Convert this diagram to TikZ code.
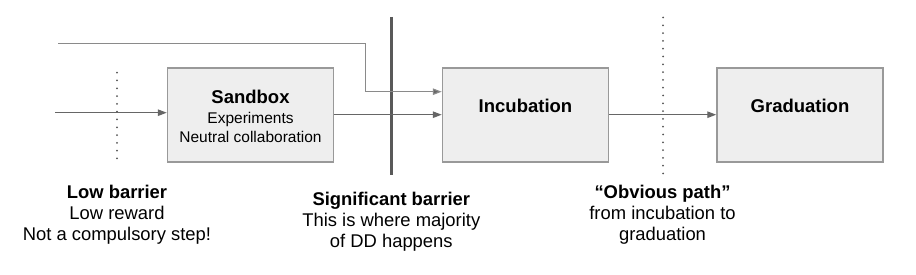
\documentclass[tikz,border=0pt]{standalone}
\usepackage{fontspec}
\setmainfont{Liberation Sans}
\usetikzlibrary{arrows.meta}
\definecolor{boxfill}{HTML}{EEEEEE}
\definecolor{boxline}{HTML}{999999}
\definecolor{arrline}{HTML}{666666}
\definecolor{topline}{HTML}{8A8A8A}
\definecolor{barrier}{HTML}{595959}
\definecolor{dotc}{HTML}{555555}
\tikzset{
  stagebox/.style={draw=boxline, line width=1.5pt, fill=boxfill, minimum width=166pt, minimum height=94pt, inner sep=0pt},
  flow/.style={draw=arrline, line width=1.2pt, -{Triangle[length=9pt,width=6.5pt]}},
  topflow/.style={draw=topline, line width=1.2pt, -{Triangle[length=9pt,width=6.5pt,fill=arrline]}},
  dotline/.style={draw=dotc, line width=2pt, line cap=round, dash pattern=on 0pt off 7.8pt},
  titletext/.style={font=\bfseries\fontsize{18.5}{21}\selectfont, inner sep=0pt, anchor=base},
  bodytext/.style={font=\fontsize{15.5}{18.7}\selectfont, inner sep=0pt, anchor=north, align=center},
  notetext/.style={font=\fontsize{18.4}{21}\selectfont, inner sep=0pt, anchor=north, align=center},
}
\begin{document}
\begin{tikzpicture}[x=1pt, y=-1pt]
\useasboundingbox[fill=white] (0,0) rectangle (916,275);
% boxes
\node[stagebox] (sandbox) at (250.5,115) {};
\node[stagebox] (incub) at (525.5,115) {};
\node[stagebox] (grad) at (800,115) {};
% texts in boxes
\node[titletext] (sbt) at (250.5,104) {Sandbox};
\node[bodytext] (sbb) at (250.5,112.4) {Experiments\\Neutral collaboration};
\node[titletext] (inct) at (525.5,112.3) {Incubation};
\node[titletext] (gradt) at (800,112.3) {Graduation};
% dotted separators
\coordinate (d1t) at (117,72.7);
\coordinate (d1b) at (117,160);
\draw[dotline] (d1t) -- (d1b);
\coordinate (d2t) at (663,17.5);
\coordinate (d2b) at (663,175);
\draw[dotline] (d2t) -- (d2b);
% barrier
\coordinate (bt) at (391.3,17);
\coordinate (bb) at (391.3,175.5);
\draw[barrier, line width=3.2pt] (bt) -- (bb);
% connectors
\coordinate (in1) at (55,112.7);
\draw[flow] (in1) -- (sandbox.west |- in1);
\coordinate (top0) at (58,43.7);
\coordinate (topc) at (365.7,43.7);
\draw[topflow] (top0) -- (topc) |- (incub.west |- 0,91.7);
\draw[flow] (sandbox.east |- 0,114.7) -- (incub.west |- 0,114.7);
\draw[flow] (incub.east |- 0,114.7) -- (grad.west |- 0,114.7);
% notes
\node[notetext] (n1) at (117,185) {\textbf{Low barrier}\\Low reward\\Not a compulsory step!};
\node[notetext] (n2) at (391.3,191.5) {\textbf{Significant barrier}\\This is where majority\\of DD happens};
\node[notetext] (n3) at (662.5,185) {\textbf{“Obvious path”}\\from incubation to\\graduation};
\end{tikzpicture}
\end{document}
